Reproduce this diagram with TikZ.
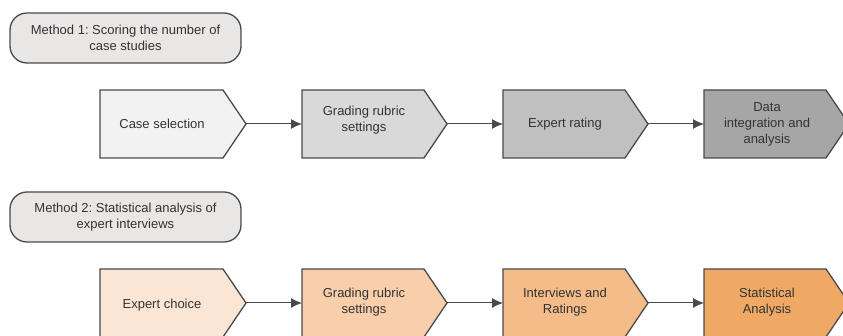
\documentclass[tikz,border=0pt]{standalone}
\usepackage{fontspec}
\setmainfont{Liberation Sans}
\frenchspacing
\usetikzlibrary{arrows.meta}
\definecolor{edge}{HTML}{4A4A4A}
\definecolor{txt}{HTML}{333333}
\definecolor{gA}{HTML}{F2F2F2}
\definecolor{gB}{HTML}{D9D9D9}
\definecolor{gC}{HTML}{C0C0C0}
\definecolor{gD}{HTML}{A6A6A6}
\definecolor{oA}{HTML}{FBE6D6}
\definecolor{oB}{HTML}{F8CEAB}
\definecolor{oC}{HTML}{F4BC88}
\definecolor{oD}{HTML}{EFA965}
\definecolor{mfill}{HTML}{E9E6E6}
\tikzset{
  penta/.style={draw=edge, line width=1.3pt, line join=miter},
  lbl/.style={text=txt, align=center, font=\fontsize{13}{16}\selectfont, inner sep=0pt},
  methodbox/.style={draw=edge, line width=1.3pt, fill=mfill, rounded corners=17pt,
    minimum width=231pt, minimum height=50pt, align=center, text=txt,
    font=\fontsize{13}{16}\selectfont, inner sep=0pt},
  conn/.style={draw=edge, line width=1pt, -{Latex[length=11pt,width=10pt]}}
}
\begin{document}
\begin{tikzpicture}[x=1pt,y=-1pt]
\useasboundingbox (0,0) rectangle (843,336);
\fill[white] (0,0) rectangle (843,336);

% Method boxes
\node[methodbox] (m1) at (125.5,38) {Method 1: Scoring the number of\\case studies};
\node[methodbox] (m2) at (125.5,217) {Method 2: Statistical analysis of\\expert interviews};

% Top row pentagons
\draw[penta, fill=gA] (100,90) -- (223,90) -- (246,124) -- (223,158) -- (100,158) -- cycle;
\draw[penta, fill=gB] (302,90) -- (424,90) -- (447,124) -- (424,158) -- (302,158) -- cycle;
\draw[penta, fill=gC] (503,90) -- (625,90) -- (648,124) -- (625,158) -- (503,158) -- cycle;
\draw[penta, fill=gD] (704,90) -- (826,90) -- (849,124) -- (826,158) -- (704,158) -- cycle;
\node[lbl] (a1) at (162,124) {Case selection};
\node[lbl] (a2) at (364,120) {Grading rubric\\settings};
\node[lbl] (a3) at (565,124) {Expert rating};
\node[lbl] (a4) at (767,124) {Data\\integration and\\analysis};
\coordinate (a1o) at (246,124);
\coordinate (a2i) at (302,124);
\coordinate (a2o) at (447,124);
\coordinate (a3i) at (503,124);
\coordinate (a3o) at (648,124);
\coordinate (a4i) at (704,124);
\draw[conn] (a1o) -- (a2i);
\draw[conn] (a2o) -- (a3i);
\draw[conn] (a3o) -- (a4i);

% Bottom row pentagons
\draw[penta, fill=oA] (100,269) -- (223,269) -- (246,303) -- (223,337) -- (100,337) -- cycle;
\draw[penta, fill=oB] (302,269) -- (424,269) -- (447,303) -- (424,337) -- (302,337) -- cycle;
\draw[penta, fill=oC] (503,269) -- (625,269) -- (648,303) -- (625,337) -- (503,337) -- cycle;
\draw[penta, fill=oD] (704,269) -- (826,269) -- (849,303) -- (826,337) -- (704,337) -- cycle;
\node[lbl] (b1) at (162,305) {Expert choice};
\node[lbl] (b2) at (364,302) {Grading rubric\\settings};
\node[lbl] (b3) at (565,302) {Interviews and\\Ratings};
\node[lbl] (b4) at (767,302) {Statistical\\Analysis};
\coordinate (b1o) at (246,303);
\coordinate (b2i) at (302,303);
\coordinate (b2o) at (447,303);
\coordinate (b3i) at (503,303);
\coordinate (b3o) at (648,303);
\coordinate (b4i) at (704,303);
\draw[conn] (b1o) -- (b2i);
\draw[conn] (b2o) -- (b3i);
\draw[conn] (b3o) -- (b4i);
\end{tikzpicture}
\end{document}
